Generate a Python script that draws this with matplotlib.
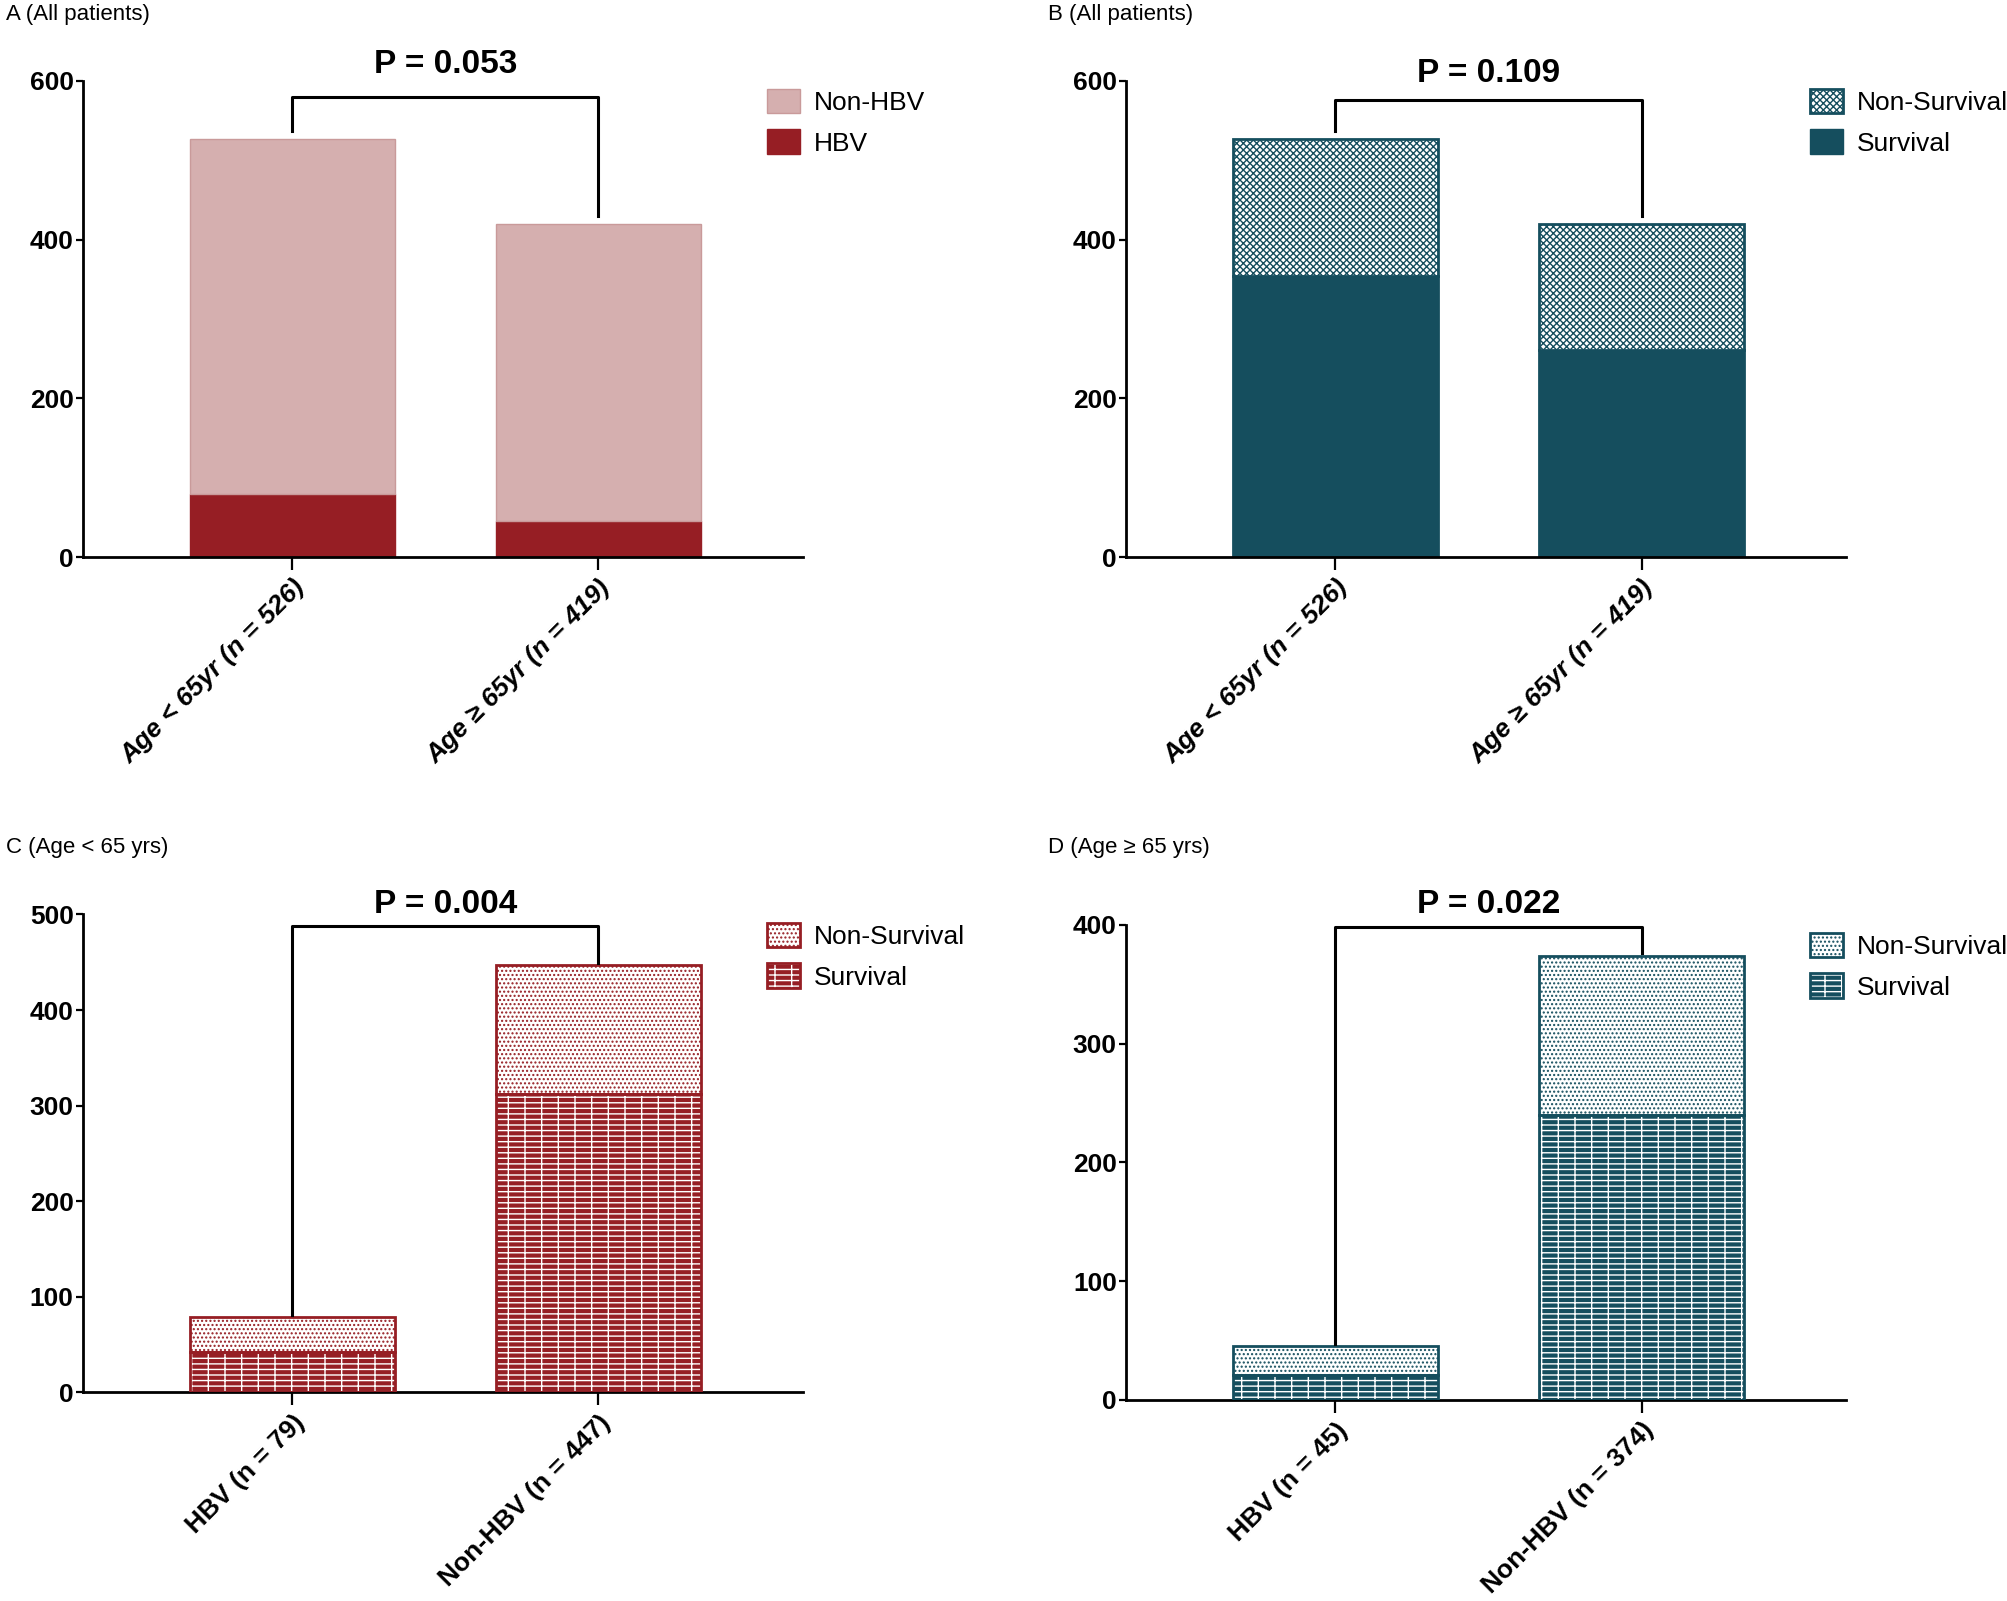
import matplotlib.pyplot as plt
from matplotlib.patches import Patch

plt.rcParams['font.family'] = ['Liberation Sans Narrow', 'Liberation Sans', 'DejaVu Sans']
plt.rcParams['hatch.linewidth'] = 1.0

# data
age_groups = ['Age < 65yr (n = 526)', 'Age \u2265 65yr (n = 419)']
age_total = [526, 419]
age_hbv = [79, 45]
age_survival = [354, 261]

young_groups = ['HBV (n = 79)', 'Non-HBV (n = 447)']
young_total = [79, 447]
young_survival = [42, 312]

old_groups = ['HBV (n = 45)', 'Non-HBV (n = 374)']
old_total = [45, 374]
old_survival = [21, 240]

p_values = ['P = 0.053', 'P = 0.109', 'P = 0.004', 'P = 0.022']
panel_titles = ['A (All patients)', 'B (All patients)', 'C (Age < 65 yrs)', 'D (Age \u2265 65 yrs)']

RED = '#961e24'
PINK = '#d5afaf'
TEAL = '#154e5e'

# hatch density is multiplied by 6 inside matplotlib
CHECK = 'xxxxx'
DOTS = '....'
BRICK = '---|'

fig = plt.figure(figsize=(20.08, 16.01), dpi=100)
ax_a = fig.add_axes([0.0415, 0.652, 0.3585, 0.2976])
ax_b = fig.add_axes([0.561, 0.652, 0.3585, 0.2976])
ax_c = fig.add_axes([0.0415, 0.1304, 0.3585, 0.2984])
ax_d = fig.add_axes([0.561, 0.1256, 0.3585, 0.2968])

x = [0, 1]
W = 0.67


def hatched_bar(ax, heights, bottom, face, hatch_col, hatch, edge):
    ax.bar(x, heights, W, bottom=bottom, color=face, edgecolor=hatch_col,
           hatch=hatch, linewidth=0, zorder=2)
    ax.bar(x, heights, W, bottom=bottom, fill=False, edgecolor=edge,
           linewidth=2, zorder=3)


def style(ax, top, step, labels, italic):
    ax.set_xlim(-0.682, 1.669)
    ax.set_ylim(0, top)
    ax.set_yticks(range(0, top + 1, step))
    for s in ['top', 'right']:
        ax.spines[s].set_visible(False)
    for s in ['left', 'bottom']:
        ax.spines[s].set_linewidth(2)
    ax.tick_params(axis='y', length=5, width=1.6, labelsize=19, pad=2)
    ax.tick_params(axis='x', length=9, width=1.6, pad=4)
    for lab in ax.get_yticklabels():
        lab.set_fontweight('bold')
    ax.set_xticks(x)
    ax.set_xticklabels(labels, rotation=45, ha='right', va='top', rotation_mode='anchor',
                       fontsize=19, fontweight='bold',
                       fontstyle='italic' if italic else 'normal',
                       family=['Liberation Sans', 'DejaVu Sans'])


def bracket(ax, totals, top, gap, p, p_y):
    ax.plot([0, 0, 1, 1], [totals[0] + gap, top, top, totals[1] + gap],
            color='black', lw=2.2, clip_on=False, zorder=4)
    ax.text(0.5, p_y, p, transform=ax.get_xaxis_transform(), ha='center', va='center',
            fontsize=24, fontweight='bold')


def legend(ax, handles, labels):
    ax.legend(handles, labels, loc='center left', bbox_to_anchor=(0.95, 0.913),
              frameon=False, fontsize=19, handlelength=1.25, handleheight=1.05,
              handletextpad=0.5, labelspacing=0.55, borderpad=0, borderaxespad=0)


# A
nonhbv = [t - h for t, h in zip(age_total, age_hbv)]
ax_a.bar(x, age_hbv, W, color=RED, edgecolor=RED, linewidth=1, zorder=2)
ax_a.bar(x, nonhbv, W, bottom=age_hbv, color=PINK, edgecolor='#c99a9a', linewidth=1, zorder=2)
style(ax_a, 600, 200, age_groups, True)
bracket(ax_a, age_total, 579, 11, p_values[0], 1.035)
legend(ax_a, [Patch(facecolor=PINK, edgecolor='#c99a9a'), Patch(facecolor=RED, edgecolor=RED)],
       ['Non-HBV', 'HBV'])

# B
nonsurv = [t - s for t, s in zip(age_total, age_survival)]
ax_b.bar(x, age_survival, W, color=TEAL, edgecolor=TEAL, linewidth=2, zorder=2)
hatched_bar(ax_b, nonsurv, age_survival, 'white', TEAL, CHECK, TEAL)
style(ax_b, 600, 200, age_groups, True)
bracket(ax_b, age_total, 576, 11, p_values[1], 1.016)
legend(ax_b,
       [(Patch(facecolor='white', edgecolor=TEAL, hatch=CHECK, linewidth=0),
         Patch(fill=False, edgecolor=TEAL, linewidth=2)),
        Patch(facecolor=TEAL, edgecolor=TEAL)],
       ['Non-Survival', 'Survival'])

# C
nonsurv = [t - s for t, s in zip(young_total, young_survival)]
hatched_bar(ax_c, young_survival, 0, RED, 'white', BRICK, RED)
hatched_bar(ax_c, nonsurv, young_survival, 'white', RED, DOTS, RED)
style(ax_c, 500, 100, young_groups, False)
bracket(ax_c, young_total, 488, 2, p_values[2], 1.021)
legend(ax_c,
       [(Patch(facecolor='white', edgecolor=RED, hatch=DOTS, linewidth=0),
         Patch(fill=False, edgecolor=RED, linewidth=2)),
        (Patch(facecolor=RED, edgecolor='white', hatch=BRICK, linewidth=0),
         Patch(fill=False, edgecolor=RED, linewidth=2))],
       ['Non-Survival', 'Survival'])

# D
nonsurv = [t - s for t, s in zip(old_total, old_survival)]
hatched_bar(ax_d, old_survival, 0, TEAL, 'white', BRICK, TEAL)
hatched_bar(ax_d, nonsurv, old_survival, 'white', TEAL, DOTS, TEAL)
style(ax_d, 400, 100, old_groups, False)
bracket(ax_d, old_total, 398, 2, p_values[3], 1.043)
legend(ax_d,
       [(Patch(facecolor='white', edgecolor=TEAL, hatch=DOTS, linewidth=0),
         Patch(fill=False, edgecolor=TEAL, linewidth=2)),
        (Patch(facecolor=TEAL, edgecolor='white', hatch=BRICK, linewidth=0),
         Patch(fill=False, edgecolor=TEAL, linewidth=2))],
       ['Non-Survival', 'Survival'])

# panel titles
fig.text(0.003, 0.991, panel_titles[0], fontsize=16, va='center')
fig.text(0.5217, 0.991, panel_titles[1], fontsize=16, va='center')
fig.text(0.003, 0.4705, panel_titles[2], fontsize=16, va='center')
fig.text(0.5217, 0.4705, panel_titles[3], fontsize=16, va='center')

fig.savefig('out.png', dpi=100)
